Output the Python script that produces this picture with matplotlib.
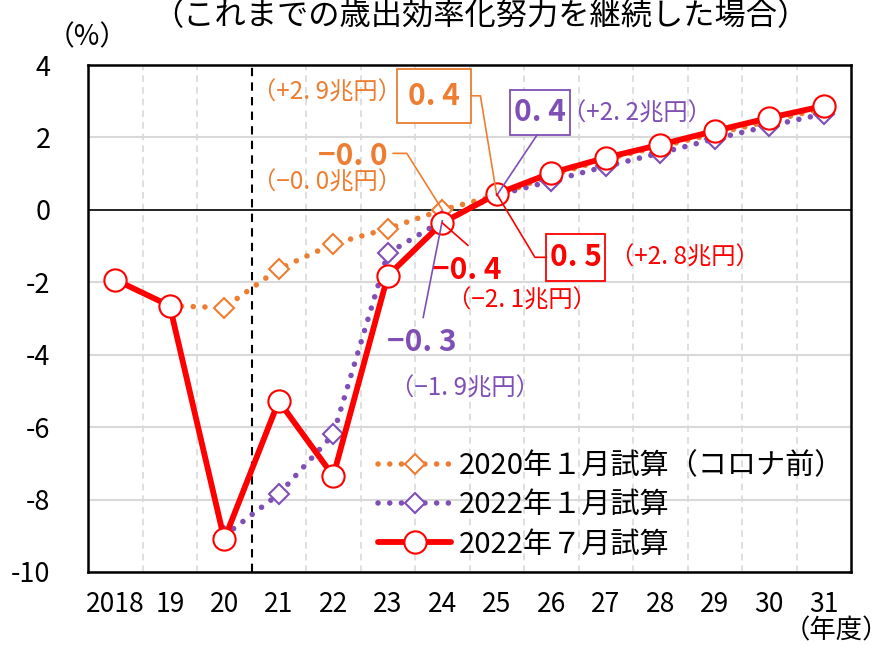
import matplotlib
matplotlib.use("Agg")
import matplotlib.pyplot as plt
from matplotlib.patches import Rectangle

plt.rcParams['font.family'] = ['Noto Sans CJK JP', 'DejaVu Sans']

years = ["2018", "19", "20", "21", "22", "23", "24", "25", "26", "27", "28", "29", "30", "31"]
jan2020 = [None, -2.65, -2.7, -1.63, -0.94, -0.52, 0.0, 0.4, 0.95, 1.4, 1.75, 2.1, 2.45, 2.8]
jan2022 = [None, None, -9.0, -7.85, -6.2, -1.2, -0.3, 0.4, 0.8, 1.2, 1.57, 1.96, 2.32, 2.65]
jul2022 = [-1.93, -2.65, -9.1, -5.28, -7.35, -1.82, -0.36, 0.44, 1.02, 1.44, 1.8, 2.18, 2.54, 2.87]
series_labels = ["2020年１月試算（コロナ前）", "2022年１月試算", "2022年７月試算"]
yticks = [4, 2, 0, -2, -4, -6, -8, -10]

ORANGE = "#ED7D31"
PURPLE = "#7F4FB5"
RED = "#FF0000"

fig = plt.figure(figsize=(8.9, 6.45), dpi=100)
ax = fig.add_axes([0.0989, 0.1132, 0.8573, 0.786])

xs = [i + 0.5 for i in range(len(years))]

def pts(vals):
    x = [xs[i] for i, v in enumerate(vals) if v is not None]
    y = [v for v in vals if v is not None]
    return x, y

dot = (0, (0.01, 2.1))
x1, y1 = pts(jan2020)
ax.plot(x1, y1, color=ORANGE, lw=4, linestyle=dot, dash_capstyle='round',
        marker='D', markersize=10.5, markerfacecolor='white', markeredgecolor=ORANGE,
        markeredgewidth=1.5, zorder=3, label=series_labels[0])
x2, y2 = pts(jan2022)
ax.plot(x2, y2, color=PURPLE, lw=4, linestyle=dot, dash_capstyle='round',
        marker='D', markersize=10.5, markerfacecolor='white', markeredgecolor=PURPLE,
        markeredgewidth=1.5, zorder=4, label=series_labels[1])
x3, y3 = pts(jul2022)
ax.plot(x3, y3, color=RED, lw=4.2, solid_capstyle='round',
        marker='o', markersize=16, markerfacecolor='white', markeredgecolor=RED,
        markeredgewidth=1.5, zorder=5, label=series_labels[2])

ax.set_xlim(0, len(years))
ax.set_ylim(-10, 4)
ax.set_yticks(yticks)
ax.set_yticklabels([str(t) for t in yticks], fontsize=19.5)
ax.set_xticks(xs)
ax.set_xticklabels(years, fontsize=19)
ax.tick_params(axis='both', length=0)
ax.tick_params(axis='y', pad=27)
ax.tick_params(axis='x', pad=14)

for t in yticks:
    if t != 0:
        ax.axhline(t, color='#d9d9d9', lw=1.5, zorder=1)
ax.axhline(0, color='black', lw=1.2, zorder=2)
for i in range(1, len(years)):
    if i == 3:
        ax.axvline(i, color='black', lw=1.5, linestyle=(0, (4, 3)), zorder=2)
    else:
        ax.axvline(i, color='#d9d9d9', lw=1.2, linestyle=(0, (4, 3)), zorder=1)
for s in ax.spines.values():
    s.set_linewidth(1.8)
    s.set_color('black')

BIG = 21.5
SMALL = 17.5

def boxed(x, y, txt, color, w, h):
    ax.add_patch(Rectangle((x - w / 2, y - h / 2), w, h, fill=True, facecolor='white',
                           edgecolor=color, lw=1.3, zorder=6))
    ax.text(x, y, txt, color=color, fontsize=BIG, fontweight='bold', ha='center', va='center', zorder=7)

# orange box 0.4
boxed(6.35, 3.15, "0. 4", ORANGE, 1.37, 1.49)
ax.plot([7.035, 7.2, xs[7]], [3.15, 3.15, jan2020[7]], color=ORANGE, lw=1.2, zorder=6)
ax.text(4.39, 3.25, "（+2. 9兆円）", color=ORANGE, fontsize=SMALL, ha='center', va='center')
# orange -0.0
ax.text(4.86, 1.50, "−0. 0", color=ORANGE, fontsize=BIG, fontweight='bold', ha='center', va='center')
ax.text(4.39, 0.76, "（−0. 0兆円）", color=ORANGE, fontsize=SMALL, ha='center', va='center')
ax.plot([5.6, 5.85, xs[6]], [1.56, 1.56, jan2020[6]], color=ORANGE, lw=1.2, zorder=6)

# purple box 0.4
boxed(8.29, 2.69, "0. 4", PURPLE, 1.1, 1.24)
ax.plot([8.24, xs[7]], [2.07, jan2022[7]], color=PURPLE, lw=1.2, zorder=6)
ax.text(10.07, 2.67, "（+2. 2兆円）", color=PURPLE, fontsize=SMALL, ha='center', va='center')
# purple -0.3
ax.text(6.13, -3.66, "−0. 3", color=PURPLE, fontsize=BIG, fontweight='bold', ha='center', va='center')
ax.text(6.92, -4.93, "（−1. 9兆円）", color=PURPLE, fontsize=SMALL, ha='center', va='center')
ax.plot([6.15, xs[6]], [-2.97, jan2022[6]], color=PURPLE, lw=1.2, zorder=6)

# red box 0.5
boxed(8.95, -1.31, "0. 5", RED, 1.08, 1.3)
ax.plot([8.41, 8.2, xs[7]], [-1.31, -1.31, jul2022[7]], color=RED, lw=1.2, zorder=6)
ax.text(10.95, -1.31, "（+2. 8兆円）", color=RED, fontsize=SMALL, ha='center', va='center')
# red -0.4
ax.text(6.95, -1.67, "−0. 4", color=RED, fontsize=BIG, fontweight='bold', ha='center', va='center')
ax.text(7.96, -2.5, "（−2. 1兆円）", color=RED, fontsize=SMALL, ha='center', va='center')
ax.plot([xs[6], 6.97], [jul2022[6], -0.98], color=RED, lw=1.2, zorder=6)

leg = ax.legend(loc='upper left', bbox_to_anchor=(0.365, 0.262), frameon=False,
                fontsize=21, handlelength=2.5, handletextpad=0.25, labelspacing=0.32,
                borderaxespad=0)

fig.text(0.54, 0.975, "（これまでの歳出効率化努力を継続した場合）", fontsize=22.5, ha='center', va='center')
fig.text(0.098, 0.942, "（%）", fontsize=20, ha='center', va='center')
fig.text(0.999, 0.022, "（年度）", fontsize=19, ha='right', va='center')

fig.savefig("out.png", dpi=100)
